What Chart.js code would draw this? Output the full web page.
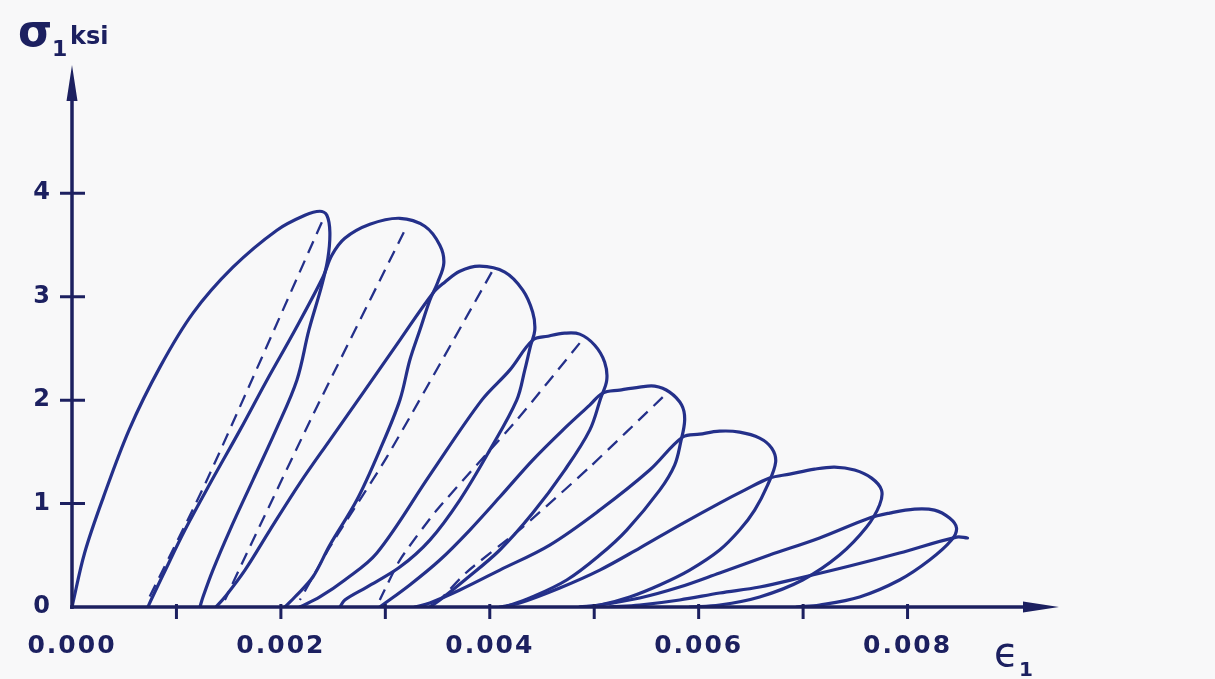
<!DOCTYPE html>
<html>
<head>
<meta charset="utf-8">
<script src="https://cdn.jsdelivr.net/npm/chart.js@4.4.1/dist/chart.umd.min.js"></script>
<style>
  html, body { margin: 0; padding: 0; background: #f8f8f9; }
  #wrap { width: 1215px; height: 679px; position: relative; }
</style>
</head>
<body>
<div id="wrap"><canvas id="chart"></canvas></div>
<script>
// strain in units of 10^-3, stress in ksi
const strainTicks = [0, 2, 4, 6, 8]
const strainMarks = [1, 2, 3, 4, 5, 6, 7, 8]
const stressTicks = [0, 1, 2, 3, 4]

// each loop: reloading branch -> envelope lobe -> unloading branch
const loop1 = [[0,0],[0.12,0.52],[0.30,1.06],[0.55,1.72],[0.842,2.319],[1.158,2.841],[1.541,3.285],[1.962,3.643],[2.230,3.787],[2.373,3.826],[2.440,3.787],[2.469,3.623],[2.450,3.372],[2.392,3.111],[2.268,2.676],[2.153,2.193],[1.952,1.710],[1.732,1.227],[1.512,0.744],[1.349,0.357],[1.254,0.097],[1.225,0]]
const loop2 = [[0.727,0],[0.766,0.087],[0.871,0.309],[1.081,0.744],[1.340,1.227],[1.608,1.710],[1.866,2.193],[2.134,2.676],[2.402,3.188],[2.488,3.401],[2.612,3.565],[2.852,3.700],[3.139,3.758],[3.378,3.681],[3.522,3.498],[3.560,3.324],[3.502,3.140],[3.426,2.966],[3.330,2.676],[3.234,2.386],[3.139,2.000],[2.947,1.517],[2.727,1.034],[2.469,0.599],[2.306,0.290],[2.134,0.097],[2.038,0]]
const loop3 = [[1.378,0],[1.464,0.097],[1.656,0.357],[1.895,0.744],[2.182,1.198],[2.469,1.614],[2.785,2.068],[3.139,2.580],[3.455,3.034],[3.569,3.140],[3.713,3.246],[3.904,3.295],[4.144,3.237],[4.316,3.063],[4.411,2.850],[4.431,2.676],[4.392,2.531],[4.335,2.290],[4.258,2.000],[4.000,1.517],[3.713,1.034],[3.426,0.647],[3.139,0.386],[2.823,0.193],[2.612,0.068],[2.565,0]]
const loop4 = [[2.182,0],[2.373,0.097],[2.612,0.261],[2.919,0.522],[3.426,1.275],[3.923,2.000],[4.191,2.290],[4.411,2.580],[4.555,2.618],[4.718,2.647],[4.861,2.638],[5.005,2.531],[5.100,2.367],[5.120,2.193],[5.062,2.019],[4.957,1.710],[4.718,1.324],[4.411,0.908],[4.096,0.551],[3.761,0.261],[3.522,0.068],[3.426,0]]
const loop5 = [[2.947,0],[3.234,0.213],[3.522,0.454],[3.809,0.744],[4.096,1.063],[4.411,1.420],[4.699,1.710],[4.957,1.952],[5.081,2.068],[5.244,2.097],[5.435,2.126],[5.579,2.135],[5.722,2.077],[5.837,1.952],[5.866,1.807],[5.828,1.594],[5.770,1.372],[5.627,1.130],[5.311,0.744],[5.053,0.502],[4.737,0.261],[4.383,0.087],[4.144,0]]
const loop6 = [[3.282,0],[3.426,0.039],[3.713,0.164],[4.096,0.357],[4.574,0.599],[5.053,0.937],[5.531,1.324],[5.847,1.643],[6.010,1.671],[6.201,1.700],[6.392,1.691],[6.584,1.633],[6.699,1.536],[6.737,1.401],[6.660,1.179],[6.536,0.937],[6.392,0.744],[6.201,0.551],[5.914,0.357],[5.627,0.213],[5.340,0.097],[5.053,0.019],[4.861,0]]
const loop7 = [[4.096,0],[4.287,0.039],[4.670,0.184],[5.053,0.357],[5.435,0.570],[5.818,0.792],[6.201,1.005],[6.440,1.130],[6.679,1.246],[6.871,1.285],[7.110,1.333],[7.301,1.353],[7.493,1.324],[7.656,1.246],[7.751,1.130],[7.732,0.986],[7.608,0.773],[7.349,0.502],[6.995,0.261],[6.584,0.097],[6.201,0.019],[5.914,0]]
const loop8 = [[4.861,0],[5.053,0.019],[5.435,0.087],[5.818,0.193],[6.201,0.329],[6.679,0.502],[7.158,0.667],[7.636,0.860],[7.828,0.908],[8.067,0.947],[8.258,0.937],[8.402,0.860],[8.469,0.763],[8.421,0.647],[8.211,0.454],[7.923,0.261],[7.541,0.097],[7.158,0.019],[6.938,0]]
const loop9 = [[5.148,0],[5.435,0.019],[5.818,0.068],[6.201,0.135],[6.584,0.193],[6.967,0.280],[7.445,0.396],[7.923,0.522],[8.469,0.676],[8.574,0.667]]

// dashed secant lines
const dashed1 = [[2.392,3.720],[1.292,1.227],[0.718,0.048]]
const dashed2 = [[3.177,3.623],[2.306,1.855],[1.675,0.522],[1.464,0.068]]
const dashed3 = [[4.019,3.237],[3.014,1.449],[2.469,0.580],[2.182,0.068]]
const dashed4 = [[4.861,2.551],[4.258,1.807],[3.493,0.937],[3.139,0.454],[2.947,0.068]]
const dashed5 = [[5.656,2.029],[4.957,1.353],[4.316,0.773],[3.780,0.338],[3.522,0.068]]

const loops = [loop1, loop2, loop3, loop4, loop5, loop6, loop7, loop8, loop9]
const dashes = [dashed1, dashed2, dashed3, dashed4, dashed5]

const inkColor = "#24308a"
const axisColor = "#1c2060"
const font = "'DejaVu Sans'"

const toXY = pts => pts.map(([x, y]) => ({ x, y }))

const datasets = [
  ...loops.map(pts => ({
    data: toXY(pts),
    showLine: true,
    borderColor: inkColor,
    borderWidth: 3.2,
    tension: 0.35,
    pointRadius: 0,
    borderCapStyle: "round",
    borderJoinStyle: "round"
  })),
  ...dashes.map(pts => ({
    data: toXY(pts),
    showLine: true,
    borderColor: inkColor,
    borderWidth: 2.3,
    borderDash: [13, 8],
    tension: 0.2,
    pointRadius: 0
  }))
]

const axesPlugin = {
  id: "axes",
  beforeDraw(chart) {
    chart.ctx.letterSpacing = "2px"
  },
  beforeDatasetsDraw(chart) {
    chart.ctx.letterSpacing = "0px"
  },
  afterDatasetsDraw(chart) {
    const { ctx, chartArea } = chart
    const xs = chart.scales.x
    const ys = chart.scales.y
    const x0 = xs.getPixelForValue(0)
    const y0 = ys.getPixelForValue(0)
    const top = chartArea.top
    const right = chartArea.right

    ctx.save()
    ctx.strokeStyle = axisColor
    ctx.fillStyle = axisColor
    ctx.lineWidth = 3.5
    ctx.beginPath()
    ctx.moveTo(x0, y0 + 2)
    ctx.lineTo(x0, top + 20)
    ctx.moveTo(x0 - 2, y0)
    ctx.lineTo(right - 20, y0)
    ctx.stroke()

    // arrow heads
    ctx.beginPath()
    ctx.moveTo(x0, top)
    ctx.lineTo(x0 - 5.5, top + 36)
    ctx.lineTo(x0 + 5.5, top + 36)
    ctx.closePath()
    ctx.moveTo(right, y0)
    ctx.lineTo(right - 36, y0 - 5.5)
    ctx.lineTo(right - 36, y0 + 5.5)
    ctx.closePath()
    ctx.fill()

    // tick marks
    ctx.lineWidth = 3
    ctx.beginPath()
    stressTicks.filter(v => v > 0).forEach(v => {
      const py = ys.getPixelForValue(v)
      ctx.moveTo(x0 - 12, py)
      ctx.lineTo(x0 + 13, py)
    })
    strainMarks.forEach(v => {
      const px = xs.getPixelForValue(v)
      ctx.moveTo(px, y0 - 3)
      ctx.lineTo(px, y0 + 12)
    })
    ctx.stroke()

    // axis titles
    ctx.textBaseline = "alphabetic"
    ctx.textAlign = "left"
    ctx.font = "bold 44px " + font
    ctx.fillText("σ", 18, 46)
    ctx.font = "bold 22px " + font
    ctx.fillText("1", 52, 56)
    ctx.font = "bold 24px " + font
    ctx.fillText("ksi", 70, 44)
    ctx.font = "40px " + font
    ctx.fillText("ϵ", 994, 666)
    ctx.font = "bold 20px " + font
    ctx.fillText("1", 1019, 676)
    ctx.restore()
  }
}

new Chart(document.getElementById("chart"), {
  type: "scatter",
  data: { datasets },
  plugins: [axesPlugin],
  options: {
    responsive: true,
    maintainAspectRatio: false,
    animation: false,
    layout: { padding: { top: 65, right: 156, left: 0, bottom: 0 } },
    plugins: { legend: { display: false }, tooltip: { enabled: false } },
    scales: {
      x: {
        type: "linear",
        min: 0,
        max: 9.45,
        grid: { display: false, drawTicks: false },
        border: { display: false },
        afterFit: s => { s.height = 72 },
        afterBuildTicks: s => { s.ticks = strainTicks.map(v => ({ value: v })) },
        ticks: {
          padding: 24,
          autoSkip: false,
          maxRotation: 0,
          color: axisColor,
          font: { family: "DejaVu Sans", size: 25, weight: "bold" },
          callback: v => (v / 1000).toFixed(3)
        }
      },
      y: {
        type: "linear",
        min: 0,
        max: 5.24,
        grid: { display: false, drawTicks: false },
        border: { display: false },
        afterFit: s => { s.width = 72 },
        afterBuildTicks: s => { s.ticks = stressTicks.map(v => ({ value: v })) },
        ticks: {
          padding: 20,
          color: axisColor,
          font: { family: "DejaVu Sans", size: 24, weight: "bold" },
          callback: v => String(v)
        }
      }
    }
  }
})
</script>
</body>
</html>
